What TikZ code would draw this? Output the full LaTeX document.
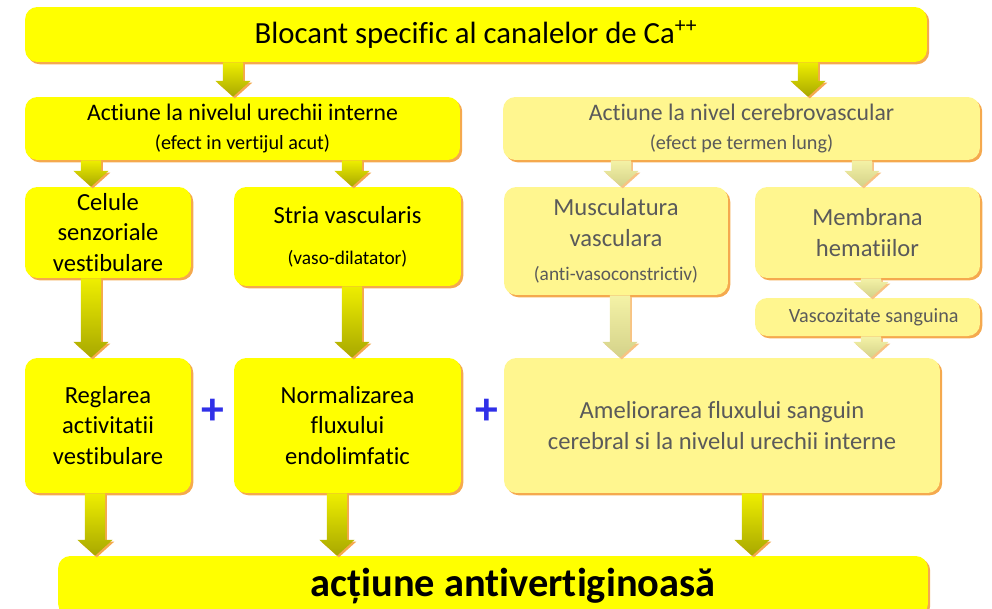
\documentclass[tikz,border=0pt]{standalone}
\usepackage{fontspec}
\setmainfont{Carlito}[Ligatures=NoCommon]
\usetikzlibrary{calc,shadows}
\definecolor{boxyellow}{HTML}{FFFF00}
\definecolor{paleyellow}{HTML}{FFF68F}
\definecolor{shadeorange}{HTML}{F5A94E}
\definecolor{arrowtop}{HTML}{EEEE00}
\definecolor{arrowbot}{HTML}{A8A800}
\definecolor{palearrowtop}{HTML}{F4F2A6}
\definecolor{palearrowbot}{HTML}{D4D28A}
\definecolor{greytext}{HTML}{5A5A5A}
\definecolor{plusblue}{HTML}{3030E8}
\newcommand{\fs}[1]{\fontsize{#1}{\the\dimexpr #1pt*5/4\relax}\selectfont}
\newcommand{\flowarrow}[4][darkarrow]{%
  \path[#1] let \p1=(#3.south), \p2=(#4.north), \p0=(#2,0) in
    (\x0-5.8pt,\y1) -- (\x0+5.8pt,\y1) -- (\x0+5.8pt,\y2+9pt) -- (\x0+10pt,\y2+9pt)
    -- (\x0,\y2) -- (\x0-10pt,\y2+9pt) -- (\x0-5.8pt,\y2+9pt) -- cycle;}
\tikzset{
  box/.style={fill=boxyellow, rounded corners=7pt, align=center, inner sep=2pt,
    drop shadow={shadow xshift=1.3pt, shadow yshift=-1.3pt, fill=shadeorange, opacity=1}},
  palebox/.style={box, fill=paleyellow, text=greytext},
  darkarrow/.style={top color=arrowtop, bottom color=arrowbot,
    drop shadow={shadow xshift=1pt, shadow yshift=-1pt, fill=shadeorange, opacity=1}},
  palearrow/.style={top color=palearrowtop, bottom color=palearrowbot,
    drop shadow={shadow xshift=1pt, shadow yshift=-1pt, fill=shadeorange!70, opacity=1}},
  plussign/.style={text=plusblue, font=\bfseries\fs{26}, inner sep=0pt}
}

\begin{document}
\begin{tikzpicture}[x=0.02cm, y=-0.02cm]
\useasboundingbox (0,0) rectangle (992,609);

\node[box, font=\fs{17.5}, minimum width=18.04cm, minimum height=1.1cm] (blocant) at (476,34.5)
  {Blocant specific al canalelor de Ca\textsuperscript{++}};

\node[box, font=\fs{13.5}, minimum width=8.7cm, minimum height=1.26cm] (urechi) at (242.5,128.5)
  {Actiune la nivelul urechii interne\\{\fs{11.5}(efect in vertijul acut)}};
\node[palebox, font=\fs{13.5}, minimum width=9.54cm, minimum height=1.26cm] (cerebro) at (741.5,128.5)
  {Actiune la nivel cerebrovascular\\{\fs{11.5}(efect pe termen lung)}};

\node[box, font=\fs{14}, minimum width=3.32cm, minimum height=1.82cm] (celule) at (108,232.5)
  {Celule\\senzoriale\\vestibulare};
\node[box, font=\fs{14}, minimum width=4.54cm, minimum height=1.98cm] (stria) at (347.5,236.5)
  {Stria vascularis\\[6pt]{\fs{11}(vaso-dilatator)}};
\node[palebox, font=\fs{14}, minimum width=4.48cm, minimum height=2.16cm] (muscul) at (616,241)
  {Musculatura\\vasculara\\[2pt]{\fs{11}(anti-vasoconstrictiv)}};
\node[palebox, font=\fs{14}, minimum width=4.5cm, minimum height=1.82cm] (membrana) at (867.5,232.5)
  {Membrana\\hematiilor};
\node[palebox, font=\fs{11.5}, minimum width=4.5cm, minimum height=0.76cm] (vascoz) at (867.5,317)
  {\hspace*{0.25cm}Vascozitate sanguina};

\node[box, font=\fs{14}, minimum width=3.32cm, minimum height=2.7cm] (reglare) at (108,425.5)
  {Reglarea\\activitatii\\vestibulare};
\node[box, font=\fs{14}, minimum width=4.54cm, minimum height=2.7cm] (normal) at (347.5,425.5)
  {Normalizarea\\fluxului\\endolimfatic};
\node[palebox, font=\fs{14}, minimum width=8.72cm, minimum height=2.7cm] (amelior) at (722,425.5)
  {Ameliorarea fluxului sanguin\\cerebral si la nivelul urechii interne};

\node[plussign] (plusa) at (213,412) {+};
\node[plussign] (plusb) at (487,412) {+};

\node[box, font=\bfseries\fs{23}, minimum width=17.4cm, minimum height=1.2cm] (efect) at (493,586)
  {\hspace*{0.8cm}acțiune antivertiginoasă};

% sageti
\flowarrow{233}{blocant}{urechi}
\flowarrow{808}{blocant}{cerebro}
\flowarrow{91}{urechi}{celule}
\flowarrow{352}{urechi}{stria}
\flowarrow[palearrow]{621}{cerebro}{muscul}
\flowarrow[palearrow]{862}{cerebro}{membrana}
\flowarrow{91}{celule}{reglare}
\flowarrow{352}{stria}{normal}
\flowarrow[palearrow]{620}{muscul}{amelior}
\flowarrow[palearrow]{871}{membrana}{vascoz}
\flowarrow[palearrow]{871}{vascoz}{amelior}
\flowarrow{95}{reglare}{efect}
\flowarrow{337}{normal}{efect}
\flowarrow{752}{amelior}{efect}
\end{tikzpicture}
\end{document}
